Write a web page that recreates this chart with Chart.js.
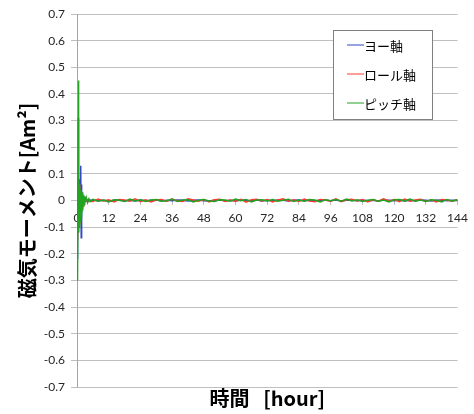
<!DOCTYPE html>
<html>
<head>
<meta charset="utf-8">
<script src="https://cdn.jsdelivr.net/npm/chart.js@4.4.1/dist/chart.umd.min.js"></script>
<style>
  html, body { margin: 0; padding: 0; background: #ffffff; }
  canvas { display: block; }
</style>
</head>
<body>
<canvas id="c" width="474" height="414"></canvas>
<script>
// Sample times [hour]: dense during the initial transient, then every 2 hours
const transientHours = [0,0.1,0.2,0.3,0.4,0.5,0.6,0.7,0.8,0.9,1.0,1.1,1.2,1.3,1.4,1.5,1.6,1.7,1.8,1.9,2.0,2.1,2.2,2.3,2.4,2.5,2.6,2.7,2.8,2.9,3.0,3.5,4.0,4.5,5.0];
const steadyHours = [6,8,10,12,14,16,18,20,22,24,26,28,30,32,34,36,38,40,42,44,46,48,50,52,54,56,58,60,62,64,66,68,70,72,74,76,78,80,82,84,86,88,90,92,94,96,98,100,102,104,106,108,110,112,114,116,118,120,122,124,126,128,130,132,134,136,138,140,142,144];

// Magnetic moment [Am^2] per axis
const yawTransient = [0,0.01,-0.22,0.04,-0.10,0.04,-0.06,0.05,-0.05,0.06,-0.05,0.08,-0.06,0.10,-0.08,0.13,-0.14,0.06,-0.05,0.03,-0.03,0.02,-0.02,0.015,-0.01,0.01,-0.008,0.006,-0.005,0.004,-0.003,-0.003,0.002,-0.002,0.001];
const rollTransient = [0,-0.01,0.03,-0.15,0.31,-0.10,0.08,-0.12,0.06,-0.09,0.05,-0.08,0.04,-0.06,0.03,-0.05,0.03,-0.04,0.02,-0.03,0.02,-0.03,0.015,-0.02,0.01,-0.02,0.01,-0.015,0.008,-0.01,0.006,0.006,-0.006,0.004,-0.003];
const pitchTransient = [0,0.02,-0.04,-0.30,0.08,0.45,-0.12,0.10,-0.10,0.06,-0.09,0.05,-0.08,0.04,-0.07,0.04,-0.06,0.03,-0.05,0.03,-0.04,0.025,-0.03,0.02,-0.02,0.02,-0.015,0.015,-0.01,0.012,-0.008,0.012,-0.008,0.006,-0.004];

const yawSteady = [0.002,-0.001,0.001,-0.002,0.001,0.002,-0.001,0.001,-0.002,0.002,
  -0.001,0.001,0.002,-0.002,0.001,-0.001,0.002,0.001,-0.002,0.001,
  0.002,-0.001,-0.002,0.001,0.002,-0.001,0.001,-0.002,0.002,0.001,
  -0.001,0.002,-0.002,0.001,-0.001,0.002,0.001,-0.002,0.001,0.002,
  -0.001,0.001,-0.002,0.002,0.001,-0.001,0.002,-0.002,0.001,0.001,
  -0.001,0.002,-0.001,0.001,-0.002,0.002,0.001,-0.001,0.002,-0.002,
  0.001,-0.001,0.002,0.001,-0.002,0.001,0.002,-0.001,0.001,0.000];
const rollSteady = [-0.004,0.005,-0.002,0.003,-0.005,0.004,0.002,-0.003,0.006,-0.004,
  0.003,-0.005,0.002,0.004,-0.003,0.005,-0.002,-0.004,0.006,0.002,
  -0.003,0.004,-0.005,0.003,0.005,-0.004,0.002,-0.003,0.004,-0.006,
  0.003,0.005,-0.002,0.004,-0.005,0.002,0.006,-0.003,0.003,-0.004,
  0.005,-0.002,-0.005,0.004,0.002,-0.003,0.006,-0.004,0.003,0.005,
  -0.002,0.004,-0.005,0.003,-0.003,0.006,-0.002,0.004,-0.004,0.005,
  -0.003,0.002,0.005,-0.004,0.003,-0.005,0.004,0.002,-0.003,0.004];
const pitchSteady = [0.004,-0.003,0.002,-0.005,0.003,0.001,-0.004,0.005,-0.002,0.003,
  -0.004,0.002,0.004,-0.003,-0.001,0.005,-0.004,0.002,0.003,-0.005,
  0.001,0.004,-0.002,-0.004,0.003,0.002,-0.003,0.005,-0.001,0.004,
  -0.005,0.002,0.003,-0.002,0.004,-0.003,0.001,0.005,-0.004,0.002,
  -0.003,0.004,0.002,-0.005,0.003,-0.001,0.004,-0.003,0.005,-0.002,
  0.003,-0.004,0.001,0.004,-0.003,0.002,-0.005,0.003,0.004,-0.002,
  0.005,-0.003,0.002,-0.004,0.003,0.001,-0.005,0.004,-0.002,0.003];

const seriesNames = ['ヨー軸', 'ロール軸', 'ピッチ軸'];
const seriesColors = ['#3346c4', '#ff3b30', '#22a322'];
const yTickValues = [-0.7,-0.6,-0.5,-0.4,-0.3,-0.2,-0.1,0,0.1,0.2,0.3,0.4,0.5,0.6,0.7];
const xTickStep = 12;

const hours = transientHours.concat(steadyHours);
const toPoints = (vals) => vals.map((v, i) => ({ x: hours[i], y: v }));
const seriesValues = [
  yawTransient.concat(yawSteady),
  rollTransient.concat(rollSteady),
  pitchTransient.concat(pitchSteady)
];

const tickFont = { family: "Lato, 'Noto Sans CJK JP', sans-serif", size: 12 };
const titleFont = { family: "'Noto Sans CJK JP', sans-serif", size: 20, weight: 'bold' };

// Boxed legend inside the plot area, upper right
const boxLegend = {
  id: 'boxLegend',
  afterDatasetsDraw(chart) {
    const ctx = chart.ctx;
    const x0 = 333.5, y0 = 30.5, w = 99, h = 89;
    ctx.save();
    ctx.fillStyle = '#ffffff';
    ctx.fillRect(x0, y0, w, h);
    ctx.strokeStyle = '#808080';
    ctx.lineWidth = 1;
    ctx.strokeRect(x0, y0, w, h);
    ctx.font = "13px 'Noto Sans CJK JP', sans-serif";
    ctx.textBaseline = 'middle';
    chart.data.datasets.forEach((ds, i) => {
      const y = 45 + i * 29;
      ctx.strokeStyle = ds.borderColor;
      ctx.lineWidth = 1;
      ctx.beginPath();
      ctx.moveTo(347, y);
      ctx.lineTo(364, y);
      ctx.stroke();
      ctx.fillStyle = '#000000';
      ctx.fillText(ds.label, 364, y + 1);
    });
    ctx.restore();
  }
};

new Chart(document.getElementById('c'), {
  type: 'line',
  data: {
    datasets: seriesNames.map((name, i) => ({
      label: name,
      data: toPoints(seriesValues[i]),
      borderColor: seriesColors[i],
      backgroundColor: seriesColors[i],
      borderWidth: 1.5,
      pointRadius: 0,
      tension: 0,
      fill: false,
      order: 2 - i
    }))
  },
  options: {
    responsive: false,
    animation: false,
    layout: { padding: { top: 14, right: 12, left: 0, bottom: 0 } },
    plugins: { legend: { display: false }, tooltip: { enabled: false } },
    scales: {
      x: {
        type: 'linear',
        position: { y: 0 },
        min: 0,
        max: 144,
        ticks: {
          stepSize: xTickStep,
          autoSkip: false,
          maxRotation: 0,
          padding: 6,
          font: tickFont,
          color: '#262626'
        },
        grid: { drawOnChartArea: false, drawTicks: true, tickLength: 4, color: '#bfbfbf' },
        border: { display: true, color: '#a6a6a6' }
      },
      xTitle: {
        type: 'linear',
        position: 'bottom',
        min: 0,
        max: 144,
        ticks: { display: false },
        grid: { display: false },
        border: { display: false },
        title: { display: true, text: '時間   [hour]', font: titleFont, color: '#000000', padding: { top: 0, bottom: 4 } },
        afterFit: (s) => { s.height = 27; }
      },
      y: {
        min: -0.7,
        max: 0.7,
        afterBuildTicks: (s) => { s.ticks = yTickValues.map(v => ({ value: v })); },
        ticks: {
          padding: 6,
          font: tickFont,
          color: '#262626',
          callback: (v) => (Math.abs(v) < 1e-9 ? '0' : String(+v.toFixed(1)))
        },
        grid: { color: '#bfbfbf', tickLength: 6 },
        border: { color: '#a6a6a6' },
        title: { display: true, text: '磁気モーメント[Am²]', font: titleFont, color: '#000000', padding: { top: 15, bottom: 0 } },
        afterFit: (s) => { s.width = 77; }
      }
    }
  },
  plugins: [boxLegend]
});
</script>
</body>
</html>
